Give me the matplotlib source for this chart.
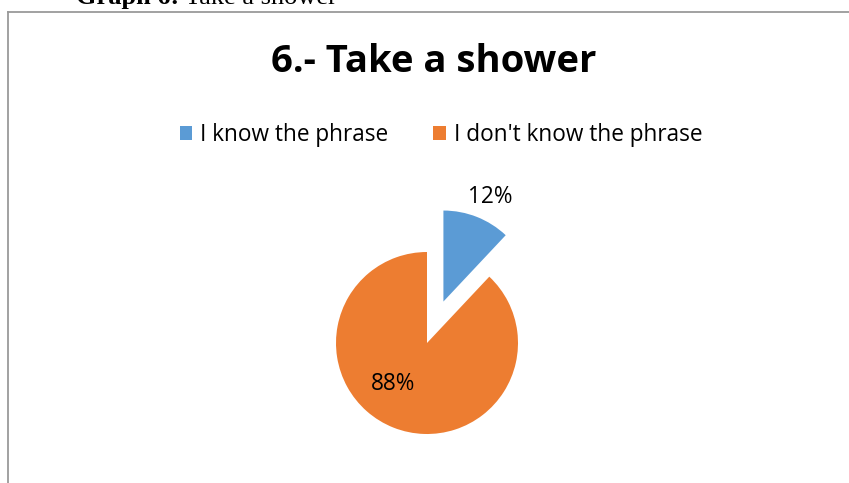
import matplotlib
matplotlib.use("Agg")
import matplotlib.pyplot as plt
from matplotlib.patches import Patch
from matplotlib.lines import Line2D

W, H = 849, 483

# Survey answers for question 6
categories = ["I know the phrase", "I don't know the phrase"]
shares = [12, 88]
colors = ["#5B9BD5", "#ED7D31"]
label_pos = [(0.70, 1.60), (-0.37, -0.45)]

fig = plt.figure(figsize=(W / 100, H / 100), dpi=100)
fig.patch.set_facecolor("white")

# caption of the document, mostly cut off at the top
cap_bold = fig.text(76 / W, 1 - 4 / H, "Graph 6:", family="Liberation Serif",
                    weight="bold", fontsize=19, va="baseline", ha="left")
fig.canvas.draw()
bb = cap_bold.get_window_extent()
fig.text((bb.x1 + 6) / W, 1 - 4 / H, "Take a shower", family="Liberation Serif",
         fontsize=19, va="baseline", ha="left")

# chart frame (left and top edges only)
fig.add_artist(Line2D([8 / W, 1], [1 - 12 / H, 1 - 12 / H], color="#9a9a9a", lw=1.3))
fig.add_artist(Line2D([8 / W, 8 / W], [0, 1 - 12 / H], color="#9a9a9a", lw=1.3))

fig.text(434 / W, 1 - 72 / H, "6.- Take a shower", family="Open Sans", weight="bold",
         fontsize=27.5, ha="center", va="baseline")

# pie axes: radius 1 in data units, centre placed in pixels
cx, cy, r = 427, 343, 91
s = 2 * r
ax = fig.add_axes([(cx - s) / W, (H - cy - s) / H, 2 * s / W, 2 * s / H])

wedges, texts, autotexts = ax.pie(shares, colors=colors, startangle=90,
                                  counterclock=False, explode=[0.49, 0],
                                  autopct="%d%%", radius=1,
                                  textprops=dict(family="Open Sans", fontsize=16.3))
ax.set_xlim(-2, 2)
ax.set_ylim(-2, 2)
ax.set_aspect("equal")
ax.axis("off")
for t, p in zip(autotexts, label_pos):
    t.set_position(p)
    t.set_clip_on(False)
for w in wedges:
    w.set_clip_on(False)

handles = [Patch(facecolor=c, edgecolor="none") for c in colors]
fig.legend(handles, categories, loc="center", bbox_to_anchor=(441 / W, 1 - 135 / H),
           ncol=2, frameon=False, prop=dict(family="Open Sans", size=16.3),
           handlelength=0.55, handleheight=0.55, handletextpad=0.35,
           columnspacing=2.0)

fig.savefig("out.png", dpi=100)
